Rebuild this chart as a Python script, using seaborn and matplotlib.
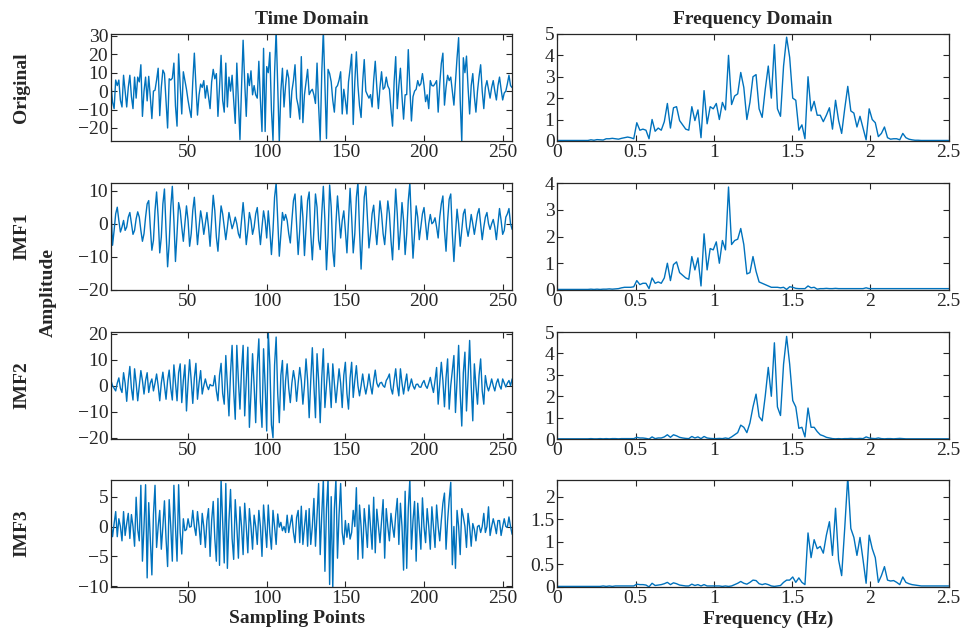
import numpy as np
import seaborn as sns
import matplotlib.pyplot as plt

sns.set_theme(style="ticks")
plt.rcParams["font.family"] = ["Liberation Serif", "DejaVu Serif"]

# ---- time domain signals (256 samples) ----
original = [
    4, -6, -9.5, 6, 3, 6, -5, -8.6, 8.6, 0, -8.6, 2, 8.6, -3, -9.5, 7.6,
    -3.8, 7.6, 5, 14.3, -13.7, 0, 7.6, -5.3, 8, -3, -14.9, 0, 0.5, 6, 12.4, -13.3,
    2, 11.4, 9.5, -5, -20, 6.7, 6, 7, 15.2, -8, -19, 20.2, 3, -12.4, 10.5, 5.7,
    1, -5, -10, -14.3, 5, 20.6, 3, -13, -2, 3.8, 2, 5.7, -3.8, 3, -3, -9.5,
    5, 11.8, 6.7, 9.5, -13.7, 2, 19.4, -5, -11.4, 15.2, -8.6, 7.6, 0, 8.6, -5, -17.5,
    15.2, -5, -26.3, 2, 27.6, 5, -13.7, 9.5, 3, 11, -2, 3, -2, -3.8, 16.2, -5,
    -21.9, 23.2, -21.9, 13.3, 10, 21, -10, -26.7, 10, 33, 2, -27.6, 0, 12.4, -8.6, 3,
    11.4, 7, -14.3, 0, 5.7, 14.3, -3.8, -8, -15.2, 18.7, -17.1, -2, 5, 11.8, -1.9, 0,
    1, -2, -6.7, 15.2, -8, -26.7, 10, 32.8, 3, -25.7, 11.8, 9.5, 5, -5, -11.4, 1.9,
    3, 6, 10.5, -12.4, 1, -5, -12.4, 5, 12, 20, -18.1, 5, 21.3, 3, -8, -14.3,
    5, 17.1, 0, -2, -3.8, -1.9, -8.6, 6, 16.2, 2, -9.5, 2, 10.5, 1, 2, 7.6,
    2.8, 1, -10, -19, 5, 18.7, -9.5, 3, 12.4, -3, -15.2, -2, -1.9, 22.5, 2, -16.2,
    -3, 0, 1, 5.7, 2.8, 4, 9.5, 3, -5.7, -2, -9.5, 5.7, 3, 2.8, 4, 5.7,
    -11.4, 4, 15, 20.6, -7.6, 2, 8.6, 5.7, 7.6, 0, -7.6, 5, 18, 29, -5, -27.6,
    18.1, 10, 19, 2, -12.4, 3, 9.5, -3, -11.4, 0, 8, 14.3, 0, -9.5, 2, 5.7,
    1, -3.8, 2, 5.7, 0, -4.8, 3, 7.6, 1, -4.8, -1, 0, 4, 8.6, 3, 1.9,
]
imf1 = [
    5, -6.5, -2, 3, 5, 1, -2.5, -1, 1, -2, -1, 2, 3.4, 0, -3.2, -2,
    1.5, 3.6, 2, -2, -5.3, -3, 2, 6, 7, -1, -8, -5, 4, 9.6, 2, -8.8,
    -4, 6, 10.5, -2, -13, -6, 5, 11.3, 1, -11.4, -3, 6.4, 4, -1, -5.3, 0,
    5.4, 1, -6.8, -3, 4, 8, 1, -6.3, -1, 3.9, 1, -3.2, 0, 3.4, -1, -6.8,
    1, 8.6, 4, -4, -8.3, -1, 5.4, 3, -1, -4.8, -1, 3.4, 1, -1.5, 0, 2,
    0, -3, -4.3, 1, 6.4, 1, -6.3, -2, 3.4, 1, -3.2, -1, 3, 4.9, -1, -6.3,
    -1, 3.9, 1, -4.3, 3.9, -2, -9.3, -2, 8, 12.3, 1, -9.8, -3, 3.4, 1, 2.8,
    1, -3, -5.8, 1, 7, 9, 0, -9.3, -2, 8.4, 2, -9.6, -1, 7, 9.6, -3,
    -10.9, -2, 9, 5, -5, -7.8, 3, 11.3, 1, -13.9, -4, 11.7, 5, -8, -12.9, 0,
    8.4, 2, -4.3, 1, 3.9, -2, -8.8, 1, 10.7, 2, -8.8, -3, 8, 12.5, -2, -13.7,
    -3, 8, 11.3, 2, -7.3, -3, 3, 5.6, -1, -6.3, 0, 6.9, 3, -3, -6.3, 0,
    6.9, 3, -5, -10.9, 0, 10.5, 3, -7.8, -2, 6.4, 1, -9.3, -3, 7, 12.3, 0,
    -10.4, -3, 5.4, 2, -4.8, -1, 3, 4.9, 0, -4.8, 0, 2.8, 0, 0.5, 1.8, -1,
    -4.3, 2, 6, 8.4, -2, -8.3, 1, 7.4, 9, -3, -11.4, -3, 4.4, 0, -6.8, -2,
    3, 4.4, -1, -3.8, -1, 2.8, 0, -3.2, 0, 3, 4.6, 0, -4.8, -1, 2, 3.4,
    0, -1.7, 0, 1.3, -1, -4.8, 0, 4.6, 1, -3.2, -2, 2, 3, 4.6, 0, -1.7,
]
imf2 = [
    2, 0, -1, -2, 1, 3, -1, -2.6, 5, 1, -6, 2, 7.4, -1, -5.5, 6.5,
    1, -5.8, 0, 5.8, 2, -3.2, 2, 5, -2.6, 1, 2.6, -2, 1, 4.5, 0, -5.8,
    1, 5.2, 0, -5.2, 2, 6, -1, -5.5, 8, 1, -5.8, 5, 8.4, -6.5, 2, 8,
    -9.7, 1, 10, 2, -6.8, 3, 8.6, -5.2, 1, 5.8, -3.2, 0, 2.6, 0, -1.5, 0.5,
    0, 0, 3.9, -2, -5.8, 4, 8.6, -3, -7.1, 11.6, 0, -11.6, 5, 15.5, -2, -12.9,
    15.5, 2, -9, 6, 15.5, -11.6, 2, 14.8, -16, -3, 12.3, 0, -14.2, 8, 18, -6,
    -16, 14.2, 0, -17.4, 20.6, 8, -15, -20, 8, 18.7, -3, -14.2, 4, 9.7, -9.4, 2,
    8.4, -1, -6.5, 1, 5.8, 2, -6, 1, 7, 2, -7.1, 0, 10.3, 2, -12.3, 2,
    14.6, 0, -12.3, 12.3, 2, -14.2, 3, 14.2, -8.4, 0, 8.6, 1, -8.4, 8.4, 1, -6.5,
    0, 6.5, 1, -8.4, 4, 9, -3, -9, 3, 9, -4.5, 2, 7.7, 0, -3.9, 0,
    4.5, 0, -3.2, 0, 4.5, 0, -3.2, 2, 6, 1, -0.5, 1, 1.3, 0, -0.6, 2,
    3, 4.5, -1, -3.2, 2, 6.5, 0, -3.9, 6.5, 1, -3.2, 1, 4.5, -2, 0, 2.6,
    0, -1.3, 0.5, 0.6, -0.5, -0.6, 1, 2, 0, -1, 1, 3.2, 0, -2.6, 2, 7,
    -7.1, 1, 9, 2, -8.1, 3, 10.3, -9, 0, 6, 11.6, -10.3, 2, 15.5, -3, -15.5,
    5, 12.9, -9.7, 3, 17.4, 0, -13.5, 8.4, 0, -7.1, 4, 10.3, -2, -7.1, 3.9, 0,
    -2, 0, 2.6, 0, -2, 1, 2.6, 0, -1.3, 2.6, 1, -0.5, 1, 2, 0, 2.6,
]
imf3 = [
    0.5, -1.7, 0.5, 2.5, -1.7, 1.3, 0, -2.4, 2.5, -1.5, 0.5, 2.2, -2, 2, 0, -3.3,
    4.9, -0.5, -2.4, 6.9, -5.8, 0, 7, -8.6, 4, -2, -8.1, 2, 6.9, -3.5, 0, 2.7,
    -3.8, 0, 4.3, -2, -6.7, 4.5, 0, -5.8, 6.9, 0, -5.8, 7, -1, -4.6, 1.3, -0.7,
    -0.5, 1.3, -0.1, 0, 2.7, 0, -1.5, 2.5, 0, -3, 2.2, 0, -3.5, 1, 3, -5,
    1, 4.2, -2, -5.8, 4.7, -6.5, 7.8, 1, -6.1, 7.2, -7, 1, 6.2, -2, -5.5, 4.5,
    0, -5.3, 3.3, 0, -4.7, 3.9, 0, -4.4, 3, 0, -3.8, 1.9, 0, -3, 2.7, 0,
    -5, 3.6, 0, -3.5, 3.6, -1, -3.8, 2.7, 0, -3, 2.1, -0.1, 0.7, -0.7, 0, -1,
    1.9, -1, 0.5, 1.9, -1, -2.7, 1.5, 2.7, -2.7, 3.4, -3, 0, 2.7, -3.3, 3, -3,
    0, 4.7, -3.3, 2, 7.2, -4.7, 2, 7.9, -7.5, 3, 7.9, -9.7, 5, -10.4, 3, 7.9,
    -5.3, 2, 7.2, -1, -3, 1, -1.8, 0.5, -2.1, -1, 2.7, 0, 6.5, -5.5, 3.6, 0,
    -5.3, 3, 0, -3.5, 3.6, 0, -3.8, 4.9, -4.4, 2.9, 0, -2.7, 1, 4.5, -5.3, 3,
    0, -2.4, 2.2, 0, -1.8, 2, 4.7, -3, 3.9, 0, -7.3, 5.9, -7, 3, 7.9, -3.8,
    1, 4.2, -5.8, 3.9, 0, -3.8, 4.8, 0, -2.7, 3, 0, -3.8, 3.3, 0, -3.5, 3.6,
    0, -2.4, 1, 3.9, 5.6, -3.8, 1, 4.5, 7.4, -6.4, 0, -7, 2.7, 0, -4.7, 3,
    1.6, 0, -3.5, 2.2, 0, -3.3, 0.5, -0.5, -2.4, 0, 0.2, -1, 0, 2.2, -1, 0,
    3.3, -1.5, 0, 1.3, 0.2, -1.2, 1, 1, -1.5, 0, 1.3, 0, -0.1, 1.6, 0, -1.3,
]

# ---- amplitude spectra, 0 .. 2.5 Hz (129 bins) ----
spec_original = [
    0.02, 0.02, 0.02, 0.02, 0.02, 0.02, 0.02, 0.02, 0.02, 0.02, 0.02, 0.05, 0.03, 0.06, 0.05, 0.04,
    0.1, 0.1, 0.12, 0.1, 0.08, 0.12, 0.15, 0.18, 0.15, 0.1, 0.85, 0.5, 0.55, 0.5, 0.1, 1.0,
    0.45, 0.6, 0.5, 0.9, 1.75, 0.6, 1.55, 1.6, 0.95, 0.75, 0.55, 0.5, 1.6, 0.95, 1.45, 0.15,
    2.35, 0.8, 1.6, 1.5, 1.75, 1.0, 1.8, 1.45, 4.0, 1.7, 2.1, 2.2, 3.2, 2.5, 1.0, 1.8,
    3.0, 3.1, 1.5, 1.1, 2.4, 3.5, 2.0, 4.5, 1.5, 1.15, 3.5, 4.85, 3.9, 2.0, 1.9, 0.5,
    0.75, 0.1, 3.0, 1.4, 1.85, 1.2, 1.2, 0.9, 1.2, 1.55, 0.55, 1.9, 0.95, 0.35, 1.5, 2.55,
    1.4, 1.3, 0.65, 1.15, 0.6, 0.05, 1.5, 1.0, 0.85, 0.2, 0.35, 0.65, 0.15, 0.08, 0.1, 0.1,
    0.05, 0.35, 0.15, 0.08, 0.05, 0.03, 0.03, 0.02, 0.02, 0.02, 0.02, 0.02, 0.02, 0.02, 0.02, 0.02,
    0.02,
]
spec_imf1 = [
    0.02, 0.02, 0.02, 0.02, 0.02, 0.02, 0.02, 0.02, 0.02, 0.02, 0.02, 0.03, 0.02, 0.03, 0.02, 0.03,
    0.03, 0.04, 0.03, 0.04, 0.05, 0.08, 0.1, 0.1, 0.1, 0.12, 0.35, 0.2, 0.25, 0.25, 0.05, 0.45,
    0.25, 0.3, 0.25, 0.45, 1.0, 0.35, 0.95, 1.05, 0.65, 0.55, 0.45, 0.4, 1.25, 0.75, 1.2, 0.15,
    2.1, 0.75, 1.55, 1.5, 1.8, 1.0, 1.85, 1.5, 3.85, 1.7, 1.85, 1.9, 2.3, 1.7, 0.6, 0.65,
    1.25, 0.7, 0.3, 0.25, 0.2, 0.15, 0.1, 0.1, 0.1, 0.08, 0.1, 0.02, 0.12, 0.1, 0.06, 0.05,
    0.05, 0.05, 0.15, 0.08, 0.1, 0.03, 0.05, 0.05, 0.06, 0.05, 0.05, 0.06, 0.05, 0.05, 0.05, 0.05,
    0.05, 0.05, 0.05, 0.05, 0.05, 0.08, 0.05, 0.05, 0.05, 0.05, 0.05, 0.05, 0.05, 0.05, 0.05, 0.05,
    0.05, 0.05, 0.05, 0.05, 0.05, 0.05, 0.05, 0.05, 0.05, 0.05, 0.05, 0.05, 0.05, 0.05, 0.05, 0.05,
    0.05,
]
spec_imf2 = [
    0.01, 0.01, 0.01, 0.01, 0.01, 0.01, 0.01, 0.01, 0.01, 0.01, 0.01, 0.02, 0.01, 0.01, 0.02, 0.01,
    0.02, 0.01, 0.02, 0.02, 0.01, 0.02, 0.02, 0.02, 0.02, 0.02, 0.08, 0.05, 0.05, 0.03, 0.0, 0.1,
    0.02, 0.05, 0.05, 0.1, 0.2, 0.08, 0.2, 0.15, 0.08, 0.05, 0.03, 0.02, 0.12, 0.05, 0.1, 0.02,
    0.12, 0.05, 0.03, 0.02, 0.02, 0.03, 0.02, 0.05, 0.02, 0.1, 0.2, 0.3, 0.65, 0.55, 0.3, 0.75,
    1.5, 2.1, 1.05, 0.85, 2.0, 3.35, 2.0, 4.5, 1.5, 1.1, 3.5, 4.8, 3.5, 1.8, 1.5, 0.5,
    0.55, 0.1, 1.45, 0.55, 0.55, 0.35, 0.2, 0.15, 0.08, 0.05, 0.02, 0.01, 0.02, 0.01, 0.02, 0.02,
    0.03, 0.02, 0.02, 0.03, 0.02, 0.1, 0.05, 0.03, 0.02, 0.05, 0.02, 0.01, 0.02, 0.02, 0.01, 0.02,
    0.03, 0.02, 0.01, 0.01, 0.01, 0.01, 0.01, 0.01, 0.01, 0.01, 0.01, 0.01, 0.01, 0.01, 0.01, 0.01,
    0.01,
]
spec_imf3 = [
    0.01, 0.01, 0.01, 0.01, 0.01, 0.01, 0.01, 0.01, 0.01, 0.01, 0.01, 0.01, 0.01, 0.01, 0.01, 0.02,
    0.01, 0.02, 0.01, 0.02, 0.02, 0.02, 0.02, 0.02, 0.02, 0.02, 0.06, 0.05, 0.05, 0.04, 0.0, 0.08,
    0.03, 0.04, 0.05, 0.07, 0.1, 0.05, 0.09, 0.07, 0.04, 0.03, 0.02, 0.02, 0.06, 0.03, 0.05, 0.02,
    0.05, 0.02, 0.02, 0.02, 0.02, 0.02, 0.01, 0.02, 0.01, 0.02, 0.05, 0.08, 0.12, 0.08, 0.06, 0.1,
    0.15, 0.14, 0.07, 0.05, 0.07, 0.05, 0.02, 0.01, 0.02, 0.03, 0.1, 0.15, 0.15, 0.22, 0.1, 0.2,
    0.1, 0.05, 1.2, 0.65, 1.05, 0.85, 0.9, 0.75, 1.15, 1.45, 0.7, 1.75, 0.6, 0.25, 1.3, 2.45,
    1.3, 1.1, 0.7, 1.1, 0.6, 0.08, 1.15, 0.85, 0.65, 0.1, 0.25, 0.45, 0.15, 0.13, 0.14, 0.1,
    0.05, 0.22, 0.1, 0.07, 0.05, 0.04, 0.03, 0.02, 0.02, 0.02, 0.02, 0.02, 0.02, 0.02, 0.02, 0.02,
    0.02,
]

row_names = ["Original", "IMF1", "IMF2", "IMF3"]
time_series = [original, imf1, imf2, imf3]
spectra = [spec_original, spec_imf1, spec_imf2, spec_imf3]

time_ylims = [(-27, 31), (-20, 12.3), (-20.5, 20.6), (-10.1, 7.8)]
time_yticks = [[-20, -10, 0, 10, 20, 30], [-20, -10, 0, 10], [-20, -10, 0, 10, 20], [-10, -5, 0, 5]]
freq_ylims = [(0, 5), (0, 4), (0, 5), (0, 2.38)]
freq_yticks = [[0, 1, 2, 3, 4, 5], [0, 1, 2, 3, 4], [0, 1, 2, 3, 4, 5], [0, 0.5, 1, 1.5, 2]]
freq_yticklabels = [None, None, None, ["0", "0.5", "1", "1.5", "2"]]

line_color = "#0072BD"
bottoms = [0.776, 0.539, 0.302, 0.067]
h = 0.170

fig = plt.figure(figsize=(9.76, 6.29), dpi=100)


def style_axis(ax):
    ax.tick_params(direction="in", top=True, right=True, length=4, width=0.8,
                   labelsize=14, pad=2, colors="#262626")
    for sp in ax.spines.values():
        sp.set_linewidth(0.9)
        sp.set_color("#262626")
    ax.set_xlabel("")
    ax.set_ylabel("")


for r in range(4):
    # time domain
    ax = fig.add_axes([0.1137, bottoms[r], 0.411, h])
    y = np.array(time_series[r])
    n = np.arange(1, len(y) + 1)
    sns.lineplot(x=n, y=y, ax=ax, color=line_color, linewidth=1.0)
    ax.set_xlim(1, 256)
    ax.set_ylim(*time_ylims[r])
    ax.set_xticks([50, 100, 150, 200, 250])
    ax.set_yticks(time_yticks[r])
    style_axis(ax)
    if r == 0:
        ax.set_title("Time Domain", fontsize=14, fontweight="bold", pad=7)

    # frequency domain
    ax2 = fig.add_axes([0.571, bottoms[r], 0.401, h])
    s = np.array(spectra[r])
    f = np.linspace(0, 2.5, len(s))
    sns.lineplot(x=f, y=s, ax=ax2, color=line_color, linewidth=1.0)
    ax2.set_xlim(0, 2.5)
    ax2.set_ylim(*freq_ylims[r])
    ax2.set_xticks([0, 0.5, 1, 1.5, 2, 2.5])
    ax2.set_xticklabels(["0", "0.5", "1", "1.5", "2", "2.5"])
    ax2.set_yticks(freq_yticks[r])
    if freq_yticklabels[r]:
        ax2.set_yticklabels(freq_yticklabels[r])
    style_axis(ax2)
    if r == 0:
        ax2.set_title("Frequency Domain", fontsize=14, fontweight="bold", pad=7)

    fig.text(0.022, bottoms[r] + h / 2, row_names[r], rotation=90, fontsize=14,
             fontweight="bold", ha="center", va="center")

fig.text(0.05, 0.535, "Amplitude", rotation=90, fontsize=14, fontweight="bold",
         ha="center", va="center")
fig.text(0.304, 0.016, "Sampling Points", fontsize=14, fontweight="bold",
         ha="center", va="center")
fig.text(0.787, 0.016, "Frequency (Hz)", fontsize=14, fontweight="bold",
         ha="center", va="center")

fig.savefig("out.png", dpi=100, facecolor="white")
